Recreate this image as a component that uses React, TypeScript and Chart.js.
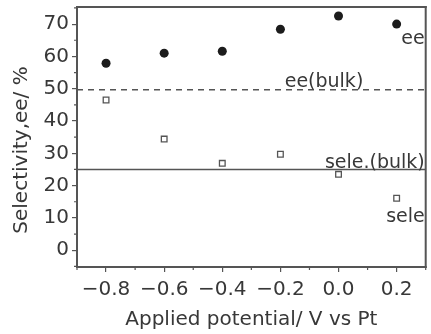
import React, { useEffect, useRef } from "react";
import { Chart, registerables } from "chart.js";

Chart.register(...registerables);

const potentials = [-0.8, -0.6, -0.4, -0.2, 0.0, 0.2];
const eeValues = [57.9, 61.0, 61.6, 68.4, 72.5, 70.0];
const seleValues = [46.5, 34.4, 26.9, 29.7, 23.5, 16.1];
const eeBulk = 49.7;
const seleBulk = 25.0;
const xMin = -0.9;
const xMax = 0.3;
const yMin = -5.2;
const yMax = 75.3;
const xMajorTicks = [-0.8, -0.6, -0.4, -0.2, 0.0, 0.2];
const xMinorTicks = [-0.9, -0.7, -0.5, -0.3, -0.1, 0.1, 0.3];
const yMajorTicks = [0, 10, 20, 30, 40, 50, 60, 70];
const yMinorTicks = [-5, 5, 15, 25, 35, 45, 55, 65, 75];
const xTitle = "Applied potential/ V vs Pt";
const yTitle = "Selectivity,ee/ %";
const labelEe = "ee";
const labelEeBulk = "ee(bulk)";
const labelSeleBulk = "sele.(bulk)";
const labelSele = "sele";

const FONT = "'DejaVu Sans', sans-serif";
const TEXT = "#383838";
const AXIS = "#555555";

const fmt = (v: number) => (v < 0 ? "\u2212" + Math.abs(v).toFixed(1) : v.toFixed(1));

const decor = {
  id: "decor",
  afterDraw(chart: any) {
    const { ctx, chartArea: a, scales } = chart;
    const x = scales.x;
    const y = scales.y;
    const right = a.right;
    ctx.save();
    ctx.setLineDash([]);
    ctx.fillStyle = AXIS;
    ctx.fillRect(a.left - 1, a.top - 1, right - a.left + 2, 2);
    ctx.fillRect(a.left - 1, a.bottom - 1, right - a.left + 2, 2);
    ctx.fillRect(a.left - 1, a.top - 1, 2, a.bottom - a.top + 2);
    ctx.fillRect(right - 1, a.top - 1, 2, a.bottom - a.top + 2);
    ctx.strokeStyle = AXIS;
    ctx.lineWidth = 1.2;
    ctx.beginPath();
    xMinorTicks.forEach((v) => {
      const px = x.getPixelForValue(v);
      ctx.moveTo(px, a.bottom);
      ctx.lineTo(px, a.bottom + 3);
    });
    yMinorTicks.forEach((v) => {
      const py = y.getPixelForValue(v);
      if (py < a.top - 0.5 || py > a.bottom + 0.5) return;
      ctx.moveTo(a.left, py);
      ctx.lineTo(a.left - 3, py);
    });
    ctx.stroke();

    ctx.fillStyle = TEXT;
    ctx.font = `19px ${FONT}`;
    ctx.textBaseline = "middle";
    ctx.textAlign = "right";
    ctx.fillText(labelEe, right - 1, y.getPixelForValue(65.5));
    ctx.fillText(labelSeleBulk, right - 1, y.getPixelForValue(27.0));
    ctx.fillText(labelSele, right - 1, y.getPixelForValue(10.2));
    ctx.textAlign = "center";
    ctx.fillText(labelEeBulk, x.getPixelForValue(-0.05), y.getPixelForValue(52.0));

    ctx.font = `20px ${FONT}`;
    ctx.textAlign = "center";
    ctx.fillText(xTitle, (a.left + right) / 2, 320);
    ctx.translate(22, 150);
    ctx.rotate(-Math.PI / 2);
    ctx.fillText(yTitle, 0, 0);
    ctx.restore();
  },
};

export default function App() {
  const ref = useRef<HTMLCanvasElement>(null);
  useEffect(() => {
    if (!ref.current) return;
    const chart = new Chart(ref.current, {
      type: "scatter",
      data: {
        datasets: [
          {
            label: "ee",
            data: potentials.map((p, i) => ({ x: p, y: eeValues[i] })),
            pointStyle: "circle",
            pointRadius: 4.5,
            backgroundColor: "#1c1c1c",
            borderColor: "#1c1c1c",
            borderWidth: 0,
          },
          {
            label: "sele",
            data: potentials.map((p, i) => ({ x: p, y: seleValues[i] })),
            pointStyle: "rect",
            pointRadius: 4,
            backgroundColor: "#ffffff",
            borderColor: "#555555",
            borderWidth: 1.3,
          },
          {
            label: "ee(bulk)",
            data: [
              { x: xMin, y: eeBulk },
              { x: xMax, y: eeBulk },
            ],
            showLine: true,
            pointRadius: 0,
            borderColor: "#555555",
            borderWidth: 1.4,
            borderDash: [6, 5],
          },
          {
            label: "sele.(bulk)",
            data: [
              { x: xMin, y: seleBulk },
              { x: xMax, y: seleBulk },
            ],
            showLine: true,
            pointRadius: 0,
            borderColor: "#555555",
            borderWidth: 1.6,
          },
        ],
      },
      options: {
        animation: false,
        responsive: false,
        devicePixelRatio: 1,
        layout: { padding: { top: 7, right: 3, left: 0, bottom: 0 } },
        plugins: { legend: { display: false }, tooltip: { enabled: false } },
        scales: {
          x: {
            type: "linear",
            min: xMin,
            max: xMax,
            afterBuildTicks: (s: any) => {
              s.ticks = xMajorTicks.map((v) => ({ value: v }));
            },
            afterFit: (s: any) => {
              s.height = 67;
              s.paddingLeft = 0;
              s.paddingRight = 0;
            },
            border: { display: false },
            grid: { drawOnChartArea: false, tickLength: 5, color: AXIS, lineWidth: 1.2 },
            ticks: {
              color: TEXT,
              font: { family: FONT, size: 20 },
              padding: 6,
              maxRotation: 0,
              callback: (v: any) => fmt(Number(v)),
            },
          },
          y: {
            type: "linear",
            min: yMin,
            max: yMax,
            afterBuildTicks: (s: any) => {
              s.ticks = yMajorTicks.map((v) => ({ value: v }));
            },
            afterFit: (s: any) => {
              s.width = 77;
              s.paddingTop = 0;
              s.paddingBottom = 0;
            },
            border: { display: false },
            grid: { drawOnChartArea: false, tickLength: 5, color: AXIS, lineWidth: 1.2 },
            ticks: {
              color: TEXT,
              font: { family: FONT, size: 20 },
              padding: 3,
              callback: (v: any) => String(v),
            },
          },
        },
      },
      plugins: [decor],
    });
    return () => chart.destroy();
  }, []);
  return (
    <div style={{ position: "fixed", left: 0, top: 0, width: 431, height: 334, background: "#fff" }}>
      <canvas ref={ref} width={431} height={334} />
    </div>
  );
}
